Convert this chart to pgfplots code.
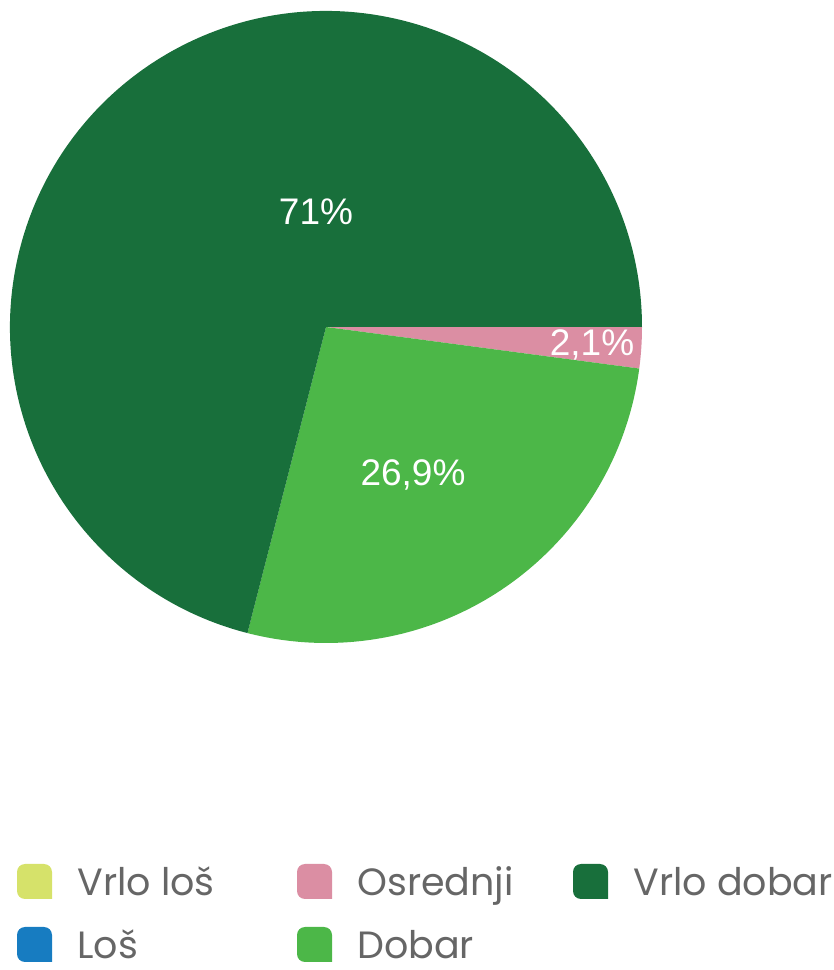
\documentclass[border=0pt]{standalone}
\usepackage{pgfplots}
\usepackage{pgfplotstable}
\pgfplotsset{compat=1.18}
\usepackage{fontspec}
\setmainfont{Poppins}
\newfontfamily\labelfont{Liberation Sans}

\definecolor{vlos}{HTML}{D6E26A}
\definecolor{los}{HTML}{177CC1}
\definecolor{osr}{HTML}{DB8EA3}
\definecolor{dob}{HTML}{4CB748}
\definecolor{vdob}{HTML}{186F3B}
\definecolor{legtext}{HTML}{666666}

% share of answers, in %
\pgfplotstableread{
key value
vlos 0
los 0
osr 2.1
dob 26.9
vdob 71
}\piedata

% slice edges, clockwise from 3 o'clock
\pgfplotstablegetelem{2}{value}\of\piedata \pgfmathsetmacro\aA{-3.6*\pgfplotsretval}
\pgfplotstablegetelem{3}{value}\of\piedata \pgfmathsetmacro\aB{\aA-3.6*\pgfplotsretval}
\pgfplotstablegetelem{4}{value}\of\piedata \pgfmathsetmacro\aC{\aB-3.6*\pgfplotsretval}

\newcommand\legitem[4]{% x, y bottom, colour, text
  \fill[#3] (axis cs:#1+35,#2) [rounded corners=4pt] -- (axis cs:#1,#2) -- (axis cs:#1,#2+35)
    -- (axis cs:#1+35,#2+35) [sharp corners] -- cycle;
  \node[anchor=base west, inner sep=0pt, text=legtext, font=\fontsize{19}{22}\selectfont]
    at (axis cs:#1+60,#2+3) {#4};
}

\begin{document}
\begin{tikzpicture}
\begin{axis}[width=417pt, height=485pt, scale only axis, hide axis, clip=false,
  xmin=0, xmax=834, ymin=0, ymax=970]
\coordinate (bl) at (axis cs:0,0);
\coordinate (tr) at (axis cs:834,970);
\fill[osr] (axis cs:326,643) -- ++(0:158pt) arc[start angle=0, end angle=\aA, radius=158pt] -- cycle;
\fill[dob] (axis cs:326,643) -- ++(\aA:158pt) arc[start angle=\aA, end angle=\aB, radius=158pt] -- cycle;
\fill[vdob] (axis cs:326,643) -- ++(\aB:158pt) arc[start angle=\aB, end angle=\aC, radius=158pt] -- cycle;

\node[text=white, font=\labelfont\fontsize{18.5}{18.5}\selectfont] at (axis cs:316,758) {71\%};
\node[text=white, font=\labelfont\fontsize{18.5}{18.5}\selectfont] at (axis cs:592,625) {2,1\%};
\node[text=white, font=\labelfont\fontsize{18.5}{18.5}\selectfont] at (axis cs:413,495) {26,9\%};

\legitem{17}{71}{vlos}{Vrlo loš}
\legitem{17}{8}{los}{Loš}
\legitem{297}{71}{osr}{Osrednji}
\legitem{297}{8}{dob}{Dobar}
\legitem{573}{71}{vdob}{Vrlo dobar}
\end{axis}
\pgfresetboundingbox
\path (bl) rectangle (tr);
\end{tikzpicture}
\end{document}
